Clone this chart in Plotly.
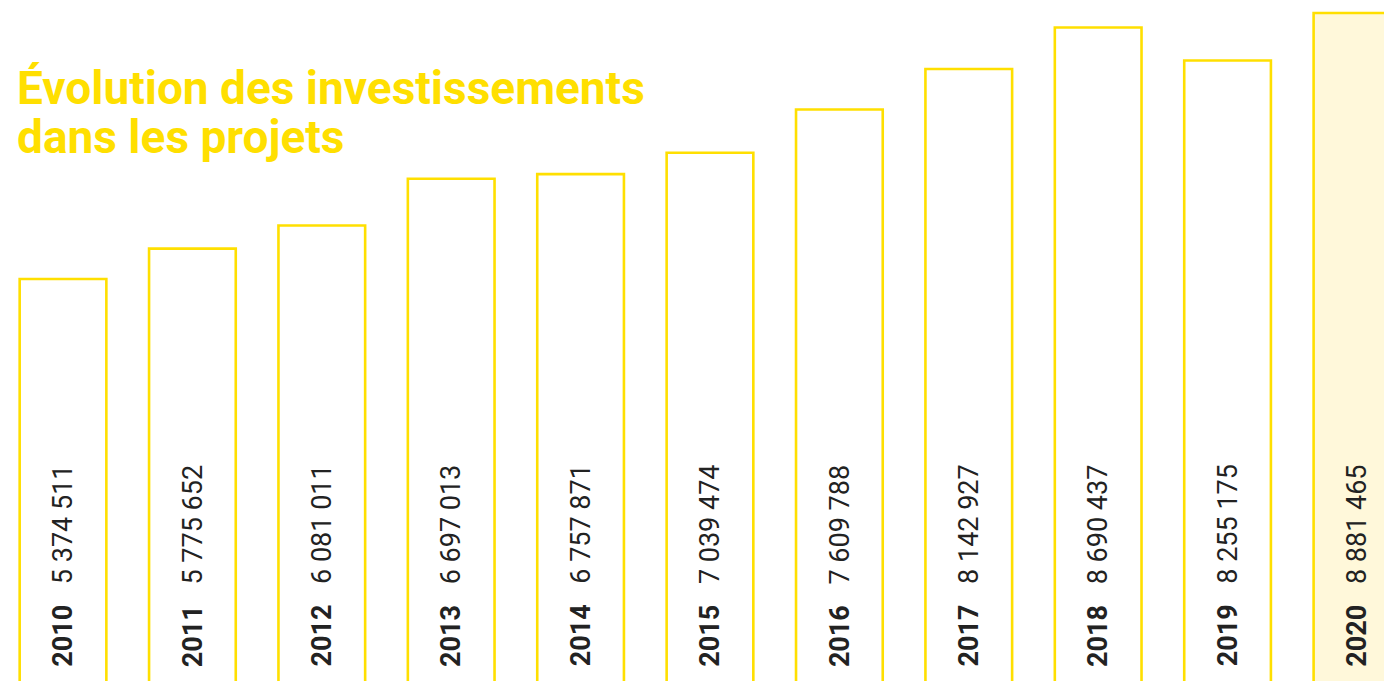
import plotly.graph_objects as go

years = [2010, 2011, 2012, 2013, 2014, 2015, 2016, 2017, 2018, 2019, 2020]
values = [5374511, 5775652, 6081011, 6697013, 6757871, 7039474, 7609788, 8142927, 8690437, 8255175, 8881465]
value_labels = ["5 374 511", "5 775 652", "6 081 011", "6 697 013", "6 757 871", "7 039 474",
                "7 609 788", "8 142 927", "8 690 437", "8 255 175", "8 881 465"]
title_lines = ["Évolution des investissements", "dans les projets"]

YELLOW = "#FFDF00"
fills = ["#FFFFFF"] * (len(years) - 1) + ["#FFF8DA"]

fig = go.Figure()
fig.add_trace(go.Bar(
    x=years, y=values,
    marker=dict(color=fills, line=dict(color=YELLOW, width=2.6)),
    hoverinfo="skip",
))

for yr, lab in zip(years, value_labels):
    fig.add_annotation(
        x=yr, xref="x", y=0.018, yref="paper",
        text=f"<b>{yr}</b>\u2002\u2005{lab}",
        textangle=-90, showarrow=False,
        xanchor="center", yanchor="bottom",
        font=dict(family="Roboto", size=27, color="#222222"),
    )

fig.add_annotation(x=15/1384, xref="paper", y=1 - 59/681, yref="paper",
                   text=f"<b>{title_lines[0]}</b>", showarrow=False,
                   xanchor="left", yanchor="top",
                   font=dict(family="Roboto", size=46, color=YELLOW))
fig.add_annotation(x=15/1384, xref="paper", y=1 - 108/681, yref="paper",
                   text=f"<b>{title_lines[1]}</b>", showarrow=False,
                   xanchor="left", yanchor="top",
                   font=dict(family="Roboto", size=46, color=YELLOW))

fig.update_layout(
    width=1384, height=681,
    margin=dict(l=0, r=0, t=0, b=0),
    paper_bgcolor="white", plot_bgcolor="white",
    bargap=0.33, showlegend=False,
    xaxis=dict(range=[2009.513, 2020.209], visible=False),
    yaxis=dict(range=[75000, 9053000], visible=False),
)
fig.write_html("out.html")
